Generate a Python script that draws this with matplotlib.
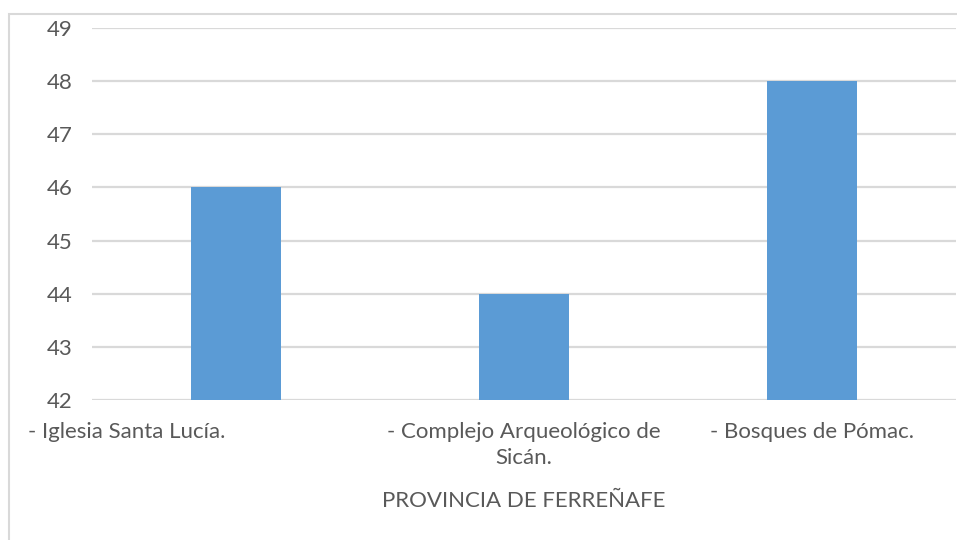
import matplotlib
matplotlib.use("Agg")
import matplotlib.pyplot as plt
from matplotlib.patches import Rectangle
from matplotlib.transforms import ScaledTranslation

categories = ["- Iglesia Santa Lucía.", "- Complejo Arqueológico de\nSicán.", "- Bosques de Pómac."]
values = [46, 44, 48]
y_ticks = [42, 43, 44, 45, 46, 47, 48, 49]
x_title = "PROVINCIA DE FERREÑAFE"

text_grey = "#595959"
grid_grey = "#d9d9d9"
bar_blue = "#5b9bd5"

plt.rcParams["font.family"] = ["Lato", "DejaVu Sans"]

fig = plt.figure(figsize=(9.57, 5.40), dpi=100)
ax = fig.add_axes([92 / 957, 1 - 400 / 540, 864 / 957, 372 / 540])

# outer chart border, cut off at right and bottom like the screenshot
fig.patches.append(Rectangle((9 / 957, -0.1), 1.2, 1.1 - 14 / 540, transform=fig.transFigure,
                             fill=False, edgecolor=grid_grey, linewidth=1.5, zorder=0))

x = list(range(len(categories)))
ax.bar(x, [v - 42 for v in values], bottom=42, width=0.3125, color=bar_blue, zorder=3)

ax.set_xlim(-0.5, 2.5)
ax.set_ylim(42, 49)
ax.set_yticks(y_ticks)
ax.set_yticklabels([str(t) for t in y_ticks])
ax.set_xticks(x)
ax.set_xticklabels(categories, linespacing=1.35)

ax.grid(axis="y", color=grid_grey, linewidth=1.6, zorder=0)
ax.set_axisbelow(True)
for s in ax.spines.values():
    s.set_visible(False)
ax.tick_params(axis="both", length=0, labelsize=16, colors=text_grey)
ax.tick_params(axis="y", pad=14)
ax.tick_params(axis="x", pad=16)

# the first category label sits left of its bar in the original
lbl = ax.get_xticklabels()[0]
lbl.set_transform(lbl.get_transform() + ScaledTranslation(-1.09, 0, fig.dpi_scale_trans))

ax.set_xlabel(x_title, fontsize=16, color=text_grey, labelpad=17)

fig.savefig("out.png", dpi=100)
